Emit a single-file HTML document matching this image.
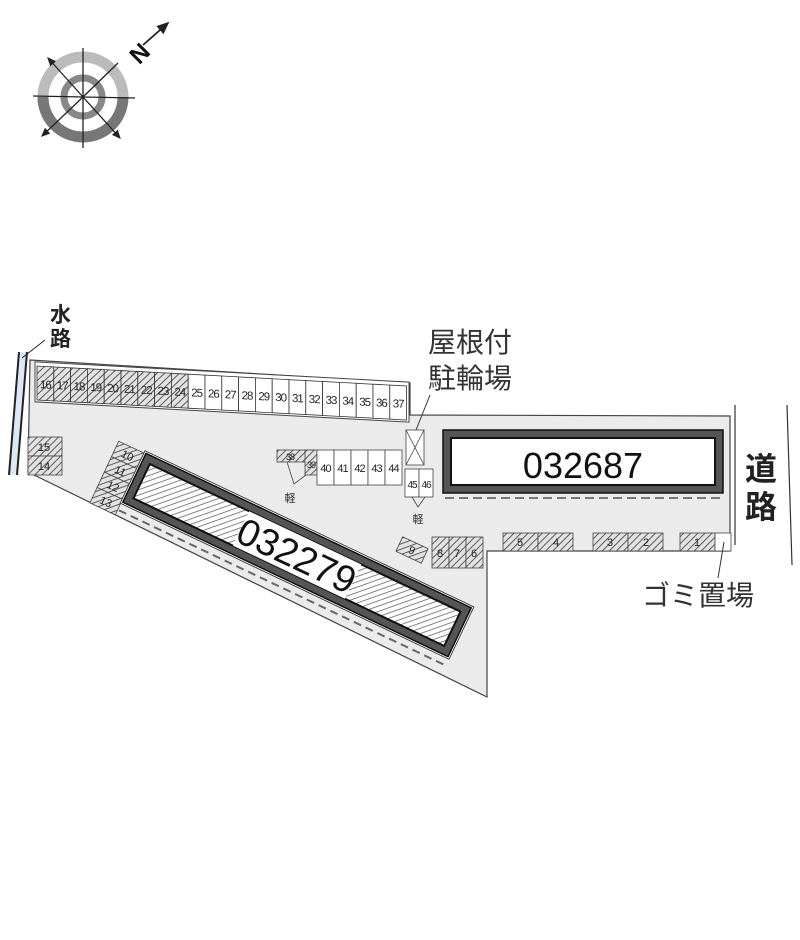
<!DOCTYPE html>
<html><head><meta charset="utf-8"><style>
html,body{margin:0;padding:0;background:#fff;}
svg{display:block;font-family:"Liberation Sans","Noto Sans CJK JP",sans-serif;}
</style></head><body>
<svg width="800" height="940" viewBox="0 0 800 940" xmlns="http://www.w3.org/2000/svg">
<defs>
<pattern id="h" patternUnits="userSpaceOnUse" width="5" height="5" patternTransform="rotate(45)">
<rect width="5" height="5" fill="#e2e2e2"/><line x1="0" y1="0" x2="0" y2="5" stroke="#444" stroke-width="1.7"/>
</pattern>
<pattern id="h2" patternUnits="userSpaceOnUse" width="5" height="5" patternTransform="rotate(45)">
<rect width="5" height="5" fill="#fff"/><line x1="0" y1="0" x2="0" y2="5" stroke="#666" stroke-width="1.6"/>
</pattern>
<marker id="ar" markerWidth="8" markerHeight="8" refX="6" refY="4" orient="auto"><path d="M0,1 L7,4 L0,7 Z" fill="#222"/></marker>
</defs>

<!-- compass -->
<circle cx="83" cy="97" r="40" fill="none" stroke="#bbb" stroke-width="11"/>
<path d="M43,97 A40,40 0 0 0 123,97" fill="none" stroke="#777" stroke-width="11"/>
<circle cx="83" cy="97" r="19" fill="none" stroke="#888" stroke-width="7"/>
<line x1="83" y1="48" x2="83" y2="148" stroke="#222" stroke-width="1.3"/>
<line x1="33" y1="96" x2="135" y2="98" stroke="#222" stroke-width="1.3"/>
<line x1="83" y1="97" x2="48" y2="58" stroke="#222" stroke-width="1.3" marker-end="url(#ar)"/>
<line x1="83" y1="97" x2="120" y2="138" stroke="#222" stroke-width="1.3" marker-end="url(#ar)"/>
<line x1="83" y1="97" x2="42" y2="136" stroke="#222" stroke-width="1.3" marker-end="url(#ar)"/>
<line x1="83" y1="97" x2="118" y2="63" stroke="#222" stroke-width="1.3"/>
<line x1="143" y1="45" x2="168" y2="23" stroke="#222" stroke-width="1.8" marker-end="url(#ar)"/>
<text x="131" y="63" font-size="24" font-weight="bold" fill="#111" transform="rotate(-45 138 54)">N</text>

<!-- lot -->
<polygon points="30,360 410,383 410,415 730,416 730,551 487,551 487,697 28,472" fill="#ebebeb" stroke="#444" stroke-width="1.2"/>
<!-- water -->
<polygon points="19,352 27,352 17,475 9,475" fill="#dde8f5"/>
<line x1="19" y1="352" x2="9" y2="475" stroke="#222" stroke-width="2"/>
<line x1="27" y1="352" x2="17" y2="475" stroke="#222" stroke-width="2"/>
<line x1="22" y1="358" x2="45" y2="340" stroke="#222" stroke-width="1"/>
<text x="50" y="322" font-size="21" font-weight="bold" fill="#222">水</text>
<text x="50" y="346" font-size="21" font-weight="bold" fill="#222">路</text>
<!-- road -->
<line x1="735" y1="405" x2="735" y2="545" stroke="#333" stroke-width="1.2"/>
<line x1="787" y1="405" x2="792" y2="565" stroke="#333" stroke-width="1.2"/>
<text x="745" y="480" font-size="32" font-weight="bold" fill="#222">道</text>
<text x="745" y="518" font-size="32" font-weight="bold" fill="#222">路</text>

<!-- row 16-37 -->
<g transform="translate(37,366) skewY(3.1)" font-size="11.5" letter-spacing="-1" text-anchor="middle" fill="#222">
<rect x="-2" y="-4" width="374" height="40" fill="#fff" stroke="#444"/>
<g stroke="#333" stroke-width="0.8">
<rect x="0" y="0" width="16.8" height="34" fill="url(#h)"/><rect x="16.8" y="0" width="16.8" height="34" fill="url(#h)"/><rect x="33.6" y="0" width="16.8" height="34" fill="url(#h)"/><rect x="50.4" y="0" width="16.8" height="34" fill="url(#h)"/><rect x="67.2" y="0" width="16.8" height="34" fill="url(#h)"/><rect x="84" y="0" width="16.8" height="34" fill="url(#h)"/><rect x="100.8" y="0" width="16.8" height="34" fill="url(#h)"/><rect x="117.6" y="0" width="16.8" height="34" fill="url(#h)"/><rect x="134.4" y="0" width="16.8" height="34" fill="url(#h)"/>
<rect x="151.2" y="0" width="16.8" height="34" fill="#fff"/><rect x="168" y="0" width="16.8" height="34" fill="#fff"/><rect x="184.8" y="0" width="16.8" height="34" fill="#fff"/><rect x="201.6" y="0" width="16.8" height="34" fill="#fff"/><rect x="218.4" y="0" width="16.8" height="34" fill="#fff"/><rect x="235.2" y="0" width="16.8" height="34" fill="#fff"/><rect x="252" y="0" width="16.8" height="34" fill="#fff"/><rect x="268.8" y="0" width="16.8" height="34" fill="#fff"/><rect x="285.6" y="0" width="16.8" height="34" fill="#fff"/><rect x="302.4" y="0" width="16.8" height="34" fill="#fff"/><rect x="319.2" y="0" width="16.8" height="34" fill="#fff"/><rect x="336" y="0" width="16.8" height="34" fill="#fff"/><rect x="352.8" y="0" width="16.8" height="34" fill="#fff"/>
</g>
<text x="8.4" y="22">16</text><text x="25.2" y="22">17</text><text x="42" y="22">18</text><text x="58.8" y="22">19</text><text x="75.6" y="22">20</text><text x="92.4" y="22">21</text><text x="109.2" y="22">22</text><text x="126" y="22">23</text><text x="142.8" y="22">24</text><text x="159.6" y="22">25</text><text x="176.4" y="22">26</text><text x="193.2" y="22">27</text><text x="210" y="22">28</text><text x="226.8" y="22">29</text><text x="243.6" y="22">30</text><text x="260.4" y="22">31</text><text x="277.2" y="22">32</text><text x="294" y="22">33</text><text x="310.8" y="22">34</text><text x="327.6" y="22">35</text><text x="344.4" y="22">36</text><text x="361.2" y="22">37</text>
</g>

<!-- 15 14 -->
<g stroke="#444" stroke-width="0.8" font-size="11" text-anchor="middle" fill="#222">
<rect x="28" y="437" width="34" height="19" fill="url(#h)"/><rect x="28" y="456" width="34" height="19" fill="url(#h)"/>
<text x="44" y="451" stroke="none">15</text><text x="44" y="470" stroke="none">14</text>
</g>
<!-- 10-13 -->
<g transform="translate(117,478) rotate(25)" stroke="#444" stroke-width="0.8" font-size="11" text-anchor="middle" fill="#222">
<rect x="-14" y="-34" width="28" height="17" fill="url(#h)"/><rect x="-14" y="-17" width="28" height="17" fill="url(#h)"/><rect x="-14" y="0" width="28" height="17" fill="url(#h)"/><rect x="-14" y="17" width="28" height="17" fill="url(#h)"/>
<text x="0" y="-21" stroke="none">10</text><text x="0" y="-4" stroke="none">11</text><text x="0" y="13" stroke="none">12</text><text x="0" y="30" stroke="none">13</text>
</g>

<!-- building 032279 -->
<g transform="translate(297,555) rotate(25.4)">
<rect x="-182" y="-29" width="364" height="58" fill="#fff" stroke="#444" stroke-width="1"/>
<rect x="-180" y="-27" width="360" height="54" fill="#555" stroke="#111" stroke-width="1.5"/>
<rect x="-172" y="-19" width="344" height="38" fill="url(#h2)" stroke="#111" stroke-width="2"/>
<rect x="-62" y="-19" width="124" height="38" fill="#fff"/>
<text x="0" y="14" font-size="38" text-anchor="middle" fill="#111">032279</text>
<line x1="-180" y1="36" x2="180" y2="36" stroke="#666" stroke-width="2" stroke-dasharray="8,5"/>
</g>

<!-- 38-44 -->
<g stroke="#444" stroke-width="0.8" font-size="11" text-anchor="middle" fill="#222" letter-spacing="-1">
<rect x="277" y="450" width="38" height="12" fill="url(#h)"/>
<rect x="305" y="450" width="12" height="25" fill="url(#h)"/>
<rect x="317" y="450" width="17" height="35" fill="#fff"/><rect x="334" y="450" width="17" height="35" fill="#fff"/><rect x="351" y="450" width="17" height="35" fill="#fff"/><rect x="368" y="450" width="17" height="35" fill="#fff"/><rect x="385" y="450" width="17" height="35" fill="#fff"/>
<g stroke="none"><text x="290" y="460" font-size="9">38</text><text x="311" y="468" font-size="9">39</text><text x="325.5" y="472">40</text><text x="342.5" y="472">41</text><text x="359.5" y="472">42</text><text x="376.5" y="472">43</text><text x="393.5" y="472">44</text></g>
<polyline points="287,462 294,484 306,475" fill="none"/>
<!-- bike -->
<rect x="406" y="430" width="18" height="35" fill="#fff"/>
<line x1="406" y1="430" x2="424" y2="465"/><line x1="424" y1="430" x2="406" y2="465"/>
<rect x="405" y="469" width="14" height="28" fill="#fff"/><rect x="419" y="469" width="14" height="28" fill="#fff"/>
<g stroke="none" font-size="10"><text x="412" y="488">45</text><text x="426" y="488">46</text></g>
<polyline points="412,497 418,507 425,497" fill="none"/>
</g>
<text x="290" y="502" font-size="11" text-anchor="middle" fill="#333">軽</text>
<text x="418" y="523" font-size="11" text-anchor="middle" fill="#333">軽</text>

<!-- building 032687 -->
<rect x="443" y="430" width="280" height="63" fill="#555" stroke="#111" stroke-width="1.5"/>
<rect x="451" y="438" width="264" height="47" fill="#fff" stroke="#111" stroke-width="2"/>
<text x="583" y="478" font-size="36" text-anchor="middle" fill="#111">032687</text>
<line x1="445" y1="498" x2="720" y2="498" stroke="#777" stroke-width="2" stroke-dasharray="9,5"/>

<!-- 9-1 -->
<g stroke="#444" stroke-width="0.8" font-size="11" text-anchor="middle" fill="#222">
<g transform="translate(412,550) rotate(25)"><rect x="-14" y="-8" width="28" height="16" fill="url(#h)"/><text x="0" y="4" stroke="none">9</text></g>
<rect x="432" y="537" width="17" height="31" fill="url(#h)"/><rect x="449" y="537" width="17" height="31" fill="url(#h)"/><rect x="466" y="537" width="17" height="31" fill="url(#h)"/>
<rect x="503" y="533" width="35" height="18" fill="url(#h)"/><rect x="538" y="533" width="35" height="18" fill="url(#h)"/>
<rect x="593" y="533" width="35" height="18" fill="url(#h)"/><rect x="628" y="533" width="35" height="18" fill="url(#h)"/>
<rect x="680" y="533" width="35" height="18" fill="url(#h)"/>
<rect x="715" y="533" width="16" height="18" fill="#fff"/>
<g stroke="none"><text x="440" y="557">8</text><text x="457" y="557">7</text><text x="474" y="557">6</text><text x="520" y="546">5</text><text x="556" y="546">4</text><text x="610" y="546">3</text><text x="646" y="546">2</text><text x="697" y="546">1</text></g>
</g>

<!-- labels -->
<text x="470" y="352" font-size="28" text-anchor="middle" fill="#333">屋根付</text>
<text x="470" y="388" font-size="28" text-anchor="middle" fill="#333">駐輪場</text>
<line x1="430" y1="395" x2="416" y2="430" stroke="#333" stroke-width="1"/>
<text x="698" y="605" font-size="28" text-anchor="middle" fill="#333">ゴミ置場</text>
<line x1="724" y1="542" x2="718" y2="578" stroke="#333" stroke-width="1"/>
</svg>
</body></html>
